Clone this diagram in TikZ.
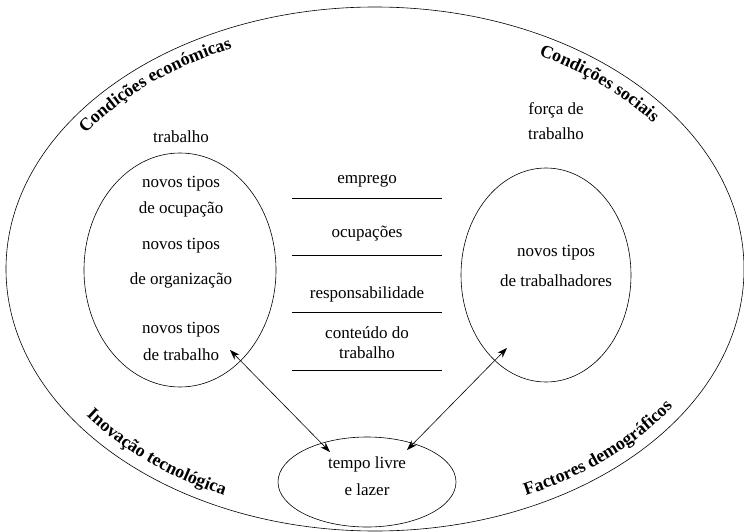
\documentclass[tikz,border=0pt]{standalone}
\usepackage{fontspec}
\setmainfont{Liberation Serif}
\usetikzlibrary{shapes.geometric,arrows.meta,decorations.text}
\begin{document}
\begin{tikzpicture}[x=1pt,y=-1pt,
  ell/.style={draw,ellipse,inner sep=0pt,line width=0.6pt},
  lbl/.style={font=\fontsize{17}{20}\selectfont,inner sep=0pt,align=center},
  sepline/.style={line width=0.6pt},
  dbl/.style={line width=0.6pt,{Stealth[length=10pt,width=7pt]}-{Stealth[length=10pt,width=7pt]}}
]
\useasboundingbox (0,0) rectangle (744,532);
% ellipses
\node[ell,minimum width=738pt,minimum height=524pt] (outer) at (375,269) {};
\node[ell,minimum width=192pt,minimum height=234pt] (left) at (180,270) {};
\node[ell,minimum width=170pt,minimum height=214pt] (right) at (546,275) {};
\node[ell,minimum width=178pt,minimum height=90pt] (bottom) at (367,482) {};
\coordinate (C) at (375,269);
% curved labels
\path[decorate,decoration={text along path,text={|\bfseries\fontsize{18}{21}\selectfont|Condições económicas}}]
  (C) ++(146:349pt and 242pt) arc[start angle=146,end angle=90,x radius=349pt,y radius=242pt];
\path[decorate,decoration={text along path,text={|\bfseries\fontsize{18}{21}\selectfont|Condições sociais}}]
  (C) ++(62:349pt and 242pt) arc[start angle=62,end angle=15,x radius=349pt,y radius=242pt];
\path[decorate,decoration={text along path,text={|\bfseries\fontsize{18}{21}\selectfont|Inovação tecnológica}}]
  (C) ++(216:357pt and 250pt) arc[start angle=216,end angle=268,x radius=357pt,y radius=250pt];
\path[decorate,decoration={text along path,text={|\bfseries\fontsize{18}{21}\selectfont|Factores demográficos}}]
  (C) ++(295:357pt and 250pt) arc[start angle=295,end angle=345,x radius=357pt,y radius=250pt];
% left texts
\node[lbl] (t1) at (181,137) {trabalho};
\node[lbl] (t2) at (181,184) {novos tipos};
\node[lbl] (t3) at (181,209) {de ocupação};
\node[lbl] (t4) at (181,246) {novos tipos};
\node[lbl] (t5) at (181,280) {de organização};
\node[lbl] (t6) at (181,330) {novos tipos};
\node[lbl] (t7) at (181,355) {de trabalho};
% right texts
\node[lbl] (r1) at (556,110) {força de};
\node[lbl] (r2) at (556,134) {trabalho};
\node[lbl] (r3) at (556,253) {novos tipos};
\node[lbl] (r4) at (556,281) {de trabalhadores};
% middle
\node[lbl] (m1) at (367,181) {emprego};
\node[lbl] (m2) at (367,234) {ocupações};
\node[lbl] (m3) at (367,294) {responsabilidade};
\node[lbl] (m4) at (367,333) {conteúdo do};
\node[lbl] (m5) at (367,353) {trabalho};
\coordinate (l1a) at (292,198); \coordinate (l1b) at (442,198);
\coordinate (l2a) at (292,255); \coordinate (l2b) at (442,255);
\coordinate (l3a) at (292,312); \coordinate (l3b) at (442,312);
\coordinate (l4a) at (292,370); \coordinate (l4b) at (442,370);
\draw[sepline] (l1a) -- (l1b);
\draw[sepline] (l2a) -- (l2b);
\draw[sepline] (l3a) -- (l3b);
\draw[sepline] (l4a) -- (l4b);
% bottom
\node[lbl] (b1) at (367,464) {tempo livre};
\node[lbl] (b2) at (367,490) {e lazer};
% arrows
\coordinate (aL1) at (230,350); \coordinate (aL2) at (330,452);
\coordinate (aR1) at (507,348); \coordinate (aR2) at (407,450);
\draw[dbl] (aL1) -- (aL2);
\draw[dbl] (aR1) -- (aR2);
\end{tikzpicture}
\end{document}
